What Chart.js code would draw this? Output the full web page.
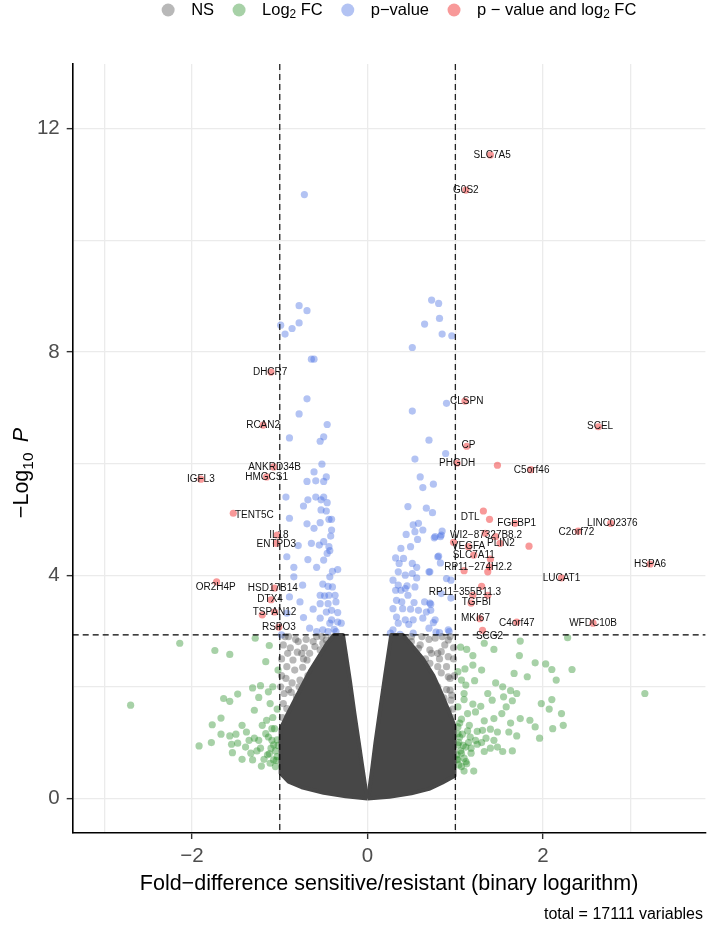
<!DOCTYPE html>
<html>
<head>
<meta charset="utf-8">
<script src="https://cdn.jsdelivr.net/npm/chart.js@4.4.1/dist/chart.umd.min.js"></script>
<style>
  html, body { margin: 0; padding: 0; background: #fff; }
  #wrap { width: 709px; height: 926px; }
</style>
</head>
<body>
<div id="wrap"><canvas id="volcano" width="709" height="926"></canvas></div>
<script>
// cutoffs
const fcCutoff = 1;
const pCutoffLog = 2.93;

// dense NS core (outline of the overplotted grey cloud), log2FC / -log10 p
const coreLeftX = [0, -0.25, -0.5, -0.75, -0.9, -0.99, -0.99, -0.93, -0.85, -0.75, -0.65, -0.55, -0.46, -0.38, -0.28, -0.2, -0.15, -0.1, -0.06, -0.02, 0];
const coreLeftY = [0, 0.04, 0.1, 0.2, 0.3, 0.45, 1.25, 1.45, 1.7, 2.0, 2.3, 2.55, 2.78, 2.93, 2.93, 2.1, 1.53, 1.0, 0.57, 0.15, 0];
const coreRightX = [0, 0.25, 0.5, 0.7, 0.85, 0.99, 0.99, 0.93, 0.85, 0.75, 0.63, 0.5, 0.4, 0.27, 0.2, 0.14, 0.09, 0.05, 0.02, 0];
const coreRightY = [0, 0.03, 0.09, 0.17, 0.28, 0.4, 1.3, 1.55, 1.85, 2.2, 2.5, 2.75, 2.93, 2.93, 2.2, 1.55, 1.0, 0.5, 0.15, 0];

// NS points outside the core
const nsX = [-0.96, -0.91, -0.79, -0.86, -0.92, -0.85, -0.69, -0.92, -0.95, -0.81, -0.62, -0.54, -0.62, -0.47, -0.43, -0.96, -0.88, -0.77, -0.69, -0.62, -0.54, -0.49, -0.40, -0.77, -0.66, -0.85, -0.69, -0.54, -0.40, -0.24, -0.72, -0.58, -0.37, -0.98, -0.9, -0.75,
  -0.98, -0.93, -0.97, -0.90, -0.83, -0.80, -0.74, -0.70, -0.66, -0.60, -0.56, -0.51, -0.45, -0.41, -0.33, -0.93, -0.97, -0.95, -0.90, -0.80, -0.96, -0.87, -0.84, -0.78, -0.72, -0.68, -0.64, -0.58, -0.73, -0.88, -0.94, -0.82, -0.52, -0.99, -0.86,
  0.50, 0.77, 0.92, 0.58, 0.71, 0.84, 0.92, 0.71, 0.80, 0.90, 0.92, 0.94, 0.95, 0.80, 0.65, 0.58, 0.77, 0.92, 0.88, 0.77, 0.65, 0.56, 0.65, 0.77, 0.88, 0.54, 0.43, 0.62, 0.98, 0.40, 0.96, 0.85,
  0.98, 0.94, 0.97, 0.90, 0.84, 0.80, 0.75, 0.70, 0.66, 0.60, 0.55, 0.50, 0.45, 0.42, 0.33, 0.93, 0.97, 0.95, 0.90, 0.80, 0.96, 0.87, 0.85, 0.78, 0.72, 0.68, 0.63, 0.56, 0.73, 0.88, 0.94, 0.82, 0.52, 0.99, 0.87, 0.70, 0.60];
const nsY = [2.75, 2.60, 2.81, 2.07, 2.36, 2.48, 2.48, 1.61, 1.88, 1.82, 2.30, 2.66, 2.81, 2.84, 2.60, 1.28, 1.16, 1.40, 1.64, 1.88, 2.12, 2.36, 2.48, 2.12, 2.06, 0.45, 0.33, 0.24, 0.15, 0.09, 2.70, 2.90, 2.75, 2.20, 2.90, 2.60,
  2.50, 2.15, 1.45, 1.95, 2.30, 2.62, 2.35, 2.85, 2.60, 2.72, 2.45, 2.78, 2.65, 2.88, 2.82, 1.05, 0.95, 0.70, 0.55, 0.40, 1.70, 1.90, 1.55, 2.00, 1.80, 2.20, 1.95, 2.15, 2.50, 2.70, 2.90, 2.85, 2.90, 2.00, 1.25,
  2.81, 2.87, 2.84, 2.69, 2.66, 2.63, 2.54, 2.42, 2.36, 2.36, 2.18, 1.94, 1.76, 2.00, 2.18, 2.42, 1.76, 1.58, 1.34, 1.52, 1.76, 2.00, 0.30, 0.39, 0.45, 0.21, 0.15, 2.90, 2.70, 2.85, 1.45, 2.90,
  2.50, 2.15, 1.60, 1.95, 2.25, 2.60, 2.10, 2.85, 2.50, 2.75, 2.60, 2.90, 2.70, 2.88, 2.85, 1.10, 0.95, 0.70, 0.55, 0.45, 1.85, 1.80, 1.45, 1.95, 2.00, 2.25, 2.05, 2.30, 2.60, 2.75, 2.90, 2.50, 2.50, 2.20, 1.20, 0.35, 0.25];

// Log2 FC only
const fcX = [-2.14, -2.70, -1.74, -1.57, -1.28, -1.12, -1.16, -1.31, -1.22, -1.08, -1.13, -1.48, -1.64, -1.57, -1.24, -1.29, -1.11, -1.67, -1.77, -1.43, -1.20, -1.09, -1.67, -1.57, -1.50, -1.38, -1.29, -1.16, -1.78, -1.92, -1.55, -1.48, -1.39, -1.22, -1.07, -1.54, -1.43, -1.33, -1.26, -1.14, -1.03, -1.31, -1.21, -1.11, -1.05, -1.18, -1.07, -1.35, -1.24, -1.09, -1.03, -1.05, -1.08, -1.03, -1.15, -1.02, -1.04, -1.10, -1.13, -1.06, -1.02, -1.12,
  1.74, 2.28, 1.06, 1.13, 1.33, 1.44, 1.73, 1.20, 1.91, 2.03, 2.10, 2.33, 1.20, 1.11, 1.03, 1.30, 1.67, 1.82, 2.15, 1.22, 1.12, 1.46, 1.54, 1.63, 1.70, 3.16, 1.10, 1.37, 1.42, 1.55, 1.65, 1.98, 2.10, 1.03, 1.20, 1.29, 1.58, 2.07, 2.21, 1.14, 1.23, 1.53, 1.74, 1.85, 2.23, 1.07, 1.33, 1.44, 1.63, 1.91, 2.11, 1.03, 1.16, 1.14, 1.31, 1.40, 1.48, 1.61, 1.70, 1.96, 1.05, 1.23, 1.35, 1.44, 1.03, 1.12, 1.25, 1.40, 1.48, 1.07, 1.18, 1.33, 1.54, 1.65, 1.03, 1.12, 1.07, 1.10, 1.21, 1.02, 1.03, 1.10, 1.07,
  1.04, 1.06, 1.08, 1.05, 1.10, 1.15, 1.18, 1.13, 1.04, 1.25, 1.30, 1.02, 1.09, 1.17];
const fcY = [2.78, 1.67, 2.65, 2.58, 2.87, 2.74, 2.45, 1.98, 2.02, 2.00, 1.91, 1.87, 1.79, 1.74, 1.81, 1.58, 1.70, 1.44, 1.32, 1.31, 1.31, 1.25, 1.15, 1.12, 1.15, 1.19, 1.08, 1.16, 1.00, 0.94, 0.97, 0.99, 0.92, 0.90, 0.96, 0.82, 0.70, 0.81, 0.85, 0.78, 0.75, 0.69, 0.58, 0.63, 0.57, 0.70, 0.69, 1.04, 1.04, 1.04, 1.05, 0.85, 1.45, 1.60, 1.40, 2.30, 0.68, 0.90, 1.10, 1.25, 0.95, 0.80,
  2.82, 2.88, 2.71, 2.67, 2.78, 2.67, 2.56, 2.56, 2.43, 2.41, 2.31, 2.31, 2.39, 2.32, 2.27, 2.30, 2.24, 2.18, 2.12, 2.11, 2.03, 2.07, 2.00, 1.93, 1.88, 1.88, 1.77, 1.88, 1.76, 1.82, 1.75, 1.70, 1.77, 1.64, 1.69, 1.65, 1.64, 1.60, 1.52, 1.52, 1.55, 1.52, 1.43, 1.40, 1.31, 1.42, 1.39, 1.43, 1.35, 1.28, 1.25, 1.28, 1.31, 1.21, 1.22, 1.24, 1.19, 1.19, 1.12, 1.08, 1.10, 1.04, 1.08, 1.04, 0.96, 0.92, 0.97, 0.90, 0.92, 0.81, 0.81, 0.84, 0.84, 0.85, 0.69, 0.66, 0.57, 0.49, 0.49, 0.78, 1.16, 1.88, 2.12,
  1.00, 0.85, 1.15, 1.35, 0.72, 1.00, 0.90, 0.62, 0.60, 1.20, 1.00, 0.70, 0.95, 1.10];

// p-value only
const pX = [-0.72, -0.78, -0.69, -0.99, -0.94, -0.86, -0.78, -0.64, -0.61, -0.69, -0.78, -0.46, -0.89, -0.50, -0.54, -0.52, -0.61, -0.69, -0.59, -0.50, -0.47, -0.93, -0.73, -0.68, -0.59, -0.53, -0.50, -0.46, -0.53, -0.47, -0.89, -0.69, -0.54, -0.44, -0.41, -0.61, -0.41, -0.42, -0.64, -0.55, -0.50, -0.79, -0.44, -0.46, -0.43, -0.92, -0.68, -0.50, -0.84, -0.58, -0.40, -0.34, -0.43, -0.84, -0.74, -0.51, -0.45, -0.40, -0.54, -0.49, -0.44, -0.37, -0.89, -0.77, -0.54, -0.45, -0.36, -0.62, -0.47, -0.41, -0.34, -0.92, -0.73, -0.54, -0.41, -0.34, -0.43, -0.30, -0.66, -0.51, -0.38, -0.58, -0.45, -0.36, -0.98,
  0.73, 0.81, 0.65, 0.82, 0.85, 0.96, 0.51, 0.90, 0.51, 0.70, 0.89, 0.54, 0.60, 0.63, 0.75, 0.46, 0.67, 0.74, 0.52, 0.58, 0.63, 0.54, 0.44, 0.85, 0.76, 0.57, 0.83, 0.49, 0.38, 0.32, 0.41, 0.51, 0.81, 0.83, 0.36, 0.56, 0.35, 0.43, 0.51, 0.70, 0.29, 0.56, 0.90, 0.35, 0.45, 0.32, 0.38, 0.43, 0.54, 0.84, 0.46, 0.33, 0.39, 0.53, 0.65, 0.72, 0.29, 0.40, 0.49, 0.58, 0.67, 0.33, 0.43, 0.52, 0.63, 0.75, 0.35, 0.47, 0.70, 0.29, 0.82, 0.93, 0.26, 0.37, 0.52,
  0.77, 0.84, 0.80, 0.71, 0.95, 0.95, 0.71, 0.72, 0.77, 0.92, 0.78];
const pY = [10.82, 8.83, 8.74, 8.48, 8.32, 8.42, 8.52, 7.87, 7.87, 7.16, 6.89, 6.70, 6.46, 6.48, 6.40, 5.99, 5.85, 5.68, 5.69, 5.68, 5.76, 5.40, 5.24, 5.35, 5.40, 5.35, 5.40, 5.30, 5.17, 5.15, 5.02, 4.92, 4.94, 5.00, 5.00, 4.84, 4.81, 4.70, 4.57, 4.54, 4.60, 4.53, 4.51, 4.39, 4.44, 4.33, 4.28, 4.27, 4.14, 4.14, 4.07, 4.10, 3.97, 3.97, 3.82, 3.84, 3.80, 3.79, 3.64, 3.63, 3.64, 3.64, 3.61, 3.52, 3.49, 3.49, 3.52, 3.39, 3.34, 3.37, 3.33, 3.32, 3.24, 3.23, 3.20, 3.16, 3.14, 3.14, 3.05, 3.02, 3.03, 2.99, 2.99, 2.99, 2.93,
  8.93, 8.87, 8.50, 8.60, 8.32, 8.29, 8.08, 7.08, 6.94, 6.42, 6.18, 6.08, 5.76, 5.57, 5.63, 5.23, 5.20, 5.12, 4.90, 4.93, 4.81, 4.78, 4.73, 4.79, 4.67, 4.64, 4.69, 4.51, 4.48, 4.31, 4.30, 4.21, 4.34, 4.22, 4.21, 4.14, 4.06, 4.00, 4.03, 4.06, 3.91, 3.95, 3.94, 3.82, 3.81, 3.73, 3.73, 3.76, 3.79, 3.67, 3.64, 3.55, 3.52, 3.51, 3.52, 3.48, 3.40, 3.40, 3.39, 3.37, 3.34, 3.25, 3.20, 3.20, 3.23, 3.15, 3.14, 3.12, 3.05, 3.02, 2.97, 2.99, 2.96, 2.94, 2.96,
  4.69, 4.72, 4.33, 4.06, 3.91, 3.59, 3.50, 3.37, 3.20, 3.02, 2.98];

// p-value and log2 FC
const bothX = [1.40, 1.12, 1.11, 1.13, 1.02, 1.48, 1.86, 2.63, 1.32, 1.39, 1.68, 2.77, 2.40, 1.34, 1.46, 1.51, 1.84, 0.98, 1.15, 1.21, 1.40, 1.10, 1.37, 1.39, 3.22, 2.21, 1.30, 1.20, 1.37, 1.18, 1.28, 1.70, 2.57, 1.31,
  -1.10, -1.19, -1.07, -1.15, -1.90, -1.53, -1.03, -1.04, -1.72, -1.06, -1.10, -1.20, -1.06, -1.01];
const bothY = [11.53, 10.90, 7.12, 6.31, 6.01, 5.97, 5.89, 6.66, 5.15, 5.00, 4.93, 4.93, 4.79, 4.75, 4.69, 4.57, 4.52, 4.59, 4.51, 4.36, 4.29, 4.08, 4.06, 4.15, 4.20, 3.95, 3.80, 3.64, 3.64, 3.50, 3.22, 3.16, 3.14, 3.01,
  7.64, 6.69, 5.94, 5.76, 5.72, 5.11, 4.72, 4.57, 3.88, 3.77, 3.56, 3.29, 3.34, 3.07];

// gene labels and where they sit
const labelText = ['SLC7A5', 'G0S2', 'CLSPN', 'CP', 'PHGDH', 'C5orf46', 'SCEL', 'DTL', 'FGFBP1', 'LINC02376', 'C2orf72', 'WI2\u221287327B8.2', 'PLIN2', 'VEGFA', 'SLC7A11', 'RP11\u2212274H2.2', 'HSPA6', 'LUCAT1', 'RP11\u2212355B11.3', 'TGFBI', 'MKI67', 'C4orf47', 'WFDC10B', 'SCG2',
  'DHCR7', 'RCAN2', 'ANKRD34B', 'HMGCS1', 'IGFL3', 'TENT5C', 'IL18', 'ENTPD3', 'OR2H4P', 'HSD17B14', 'DTX4', 'TSPAN12', 'RSPO3'];
const labelX = [1.42, 1.12, 1.13, 1.15, 1.02, 1.87, 2.65, 1.17, 1.70, 2.79, 2.38, 1.35, 1.52, 1.15, 1.21, 1.26, 3.22, 2.21, 1.11, 1.24, 1.23, 1.70, 2.57, 1.39,
  -1.11, -1.19, -1.06, -1.15, -1.90, -1.29, -1.01, -1.04, -1.73, -1.08, -1.11, -1.06, -1.01];
const labelY = [11.53, 10.90, 7.12, 6.33, 6.01, 5.88, 6.66, 5.04, 4.93, 4.93, 4.77, 4.72, 4.58, 4.51, 4.36, 4.15, 4.20, 3.95, 3.70, 3.52, 3.23, 3.14, 3.14, 2.91,
  7.64, 6.69, 5.94, 5.76, 5.72, 5.08, 4.72, 4.56, 3.79, 3.77, 3.57, 3.34, 3.07];

// legend
const legendNames = [[['NS', '']], [['Log', ''], ['2', 'sub'], [' FC', '']], [['p\u2212value', '']], [['p \u2212 value and log', ''], ['2', 'sub'], [' FC', '']]];
const colNS = 'rgba(77,77,77,0.4)';
const colFC = 'rgba(34,139,34,0.4)';
const colP = 'rgba(65,105,225,0.4)';
const colBoth = 'rgba(238,0,0,0.4)';
const legendColors = [colNS, colFC, colP, colBoth];

const FAMILY = '"Liberation Sans", Arial, Helvetica, sans-serif';
const toPts = (xs, ys) => xs.map((x, i) => ({ x, y: ys[i] }));
const minus = (v) => (v < 0 ? '\u2212' + Math.abs(v) : String(v));

const scatterStyle = (color) => ({
  pointRadius: 3.6,
  pointHoverRadius: 3.6,
  pointBackgroundColor: color,
  pointBorderWidth: 0,
  showLine: false,
});

const coreStyle = {
  type: 'line',
  showLine: true,
  pointRadius: 0,
  fill: 'shape',
  backgroundColor: '#474747',
  borderColor: '#474747',
  borderWidth: 4,
  borderJoinStyle: 'round',
  tension: 0,
};

// threshold lines
const cutoffPlugin = {
  id: 'cutoffs',
  afterDatasetsDraw(chart) {
    const { ctx, chartArea: a, scales: { x, y } } = chart;
    ctx.save();
    ctx.strokeStyle = '#000';
    ctx.lineWidth = 1.1;
    ctx.setLineDash([6, 4]);
    [-fcCutoff, fcCutoff].forEach((v) => {
      const px = x.getPixelForValue(v);
      ctx.beginPath();
      ctx.moveTo(px, a.top);
      ctx.lineTo(px, a.bottom);
      ctx.stroke();
    });
    const py = y.getPixelForValue(pCutoffLog);
    ctx.beginPath();
    ctx.moveTo(a.left, py);
    ctx.lineTo(a.right, py);
    ctx.stroke();
    ctx.restore();
  },
};

// gene names
const labelPlugin = {
  id: 'geneLabels',
  afterDatasetsDraw(chart) {
    const { ctx, scales: { x, y } } = chart;
    ctx.save();
    ctx.font = `10px ${FAMILY}`;
    ctx.fillStyle = '#111';
    ctx.textAlign = 'center';
    ctx.textBaseline = 'middle';
    labelText.forEach((t, i) => {
      ctx.fillText(t, x.getPixelForValue(labelX[i]), y.getPixelForValue(labelY[i]));
    });
    ctx.restore();
  },
};

function segWidth(ctx, segs, size) {
  let w = 0;
  segs.forEach(([t, kind]) => {
    ctx.font = `${kind === 'sub' ? size * 0.72 : size}px ${FAMILY}`;
    w += ctx.measureText(t).width;
  });
  return w;
}

function drawSegs(ctx, segs, x, y, size) {
  segs.forEach(([t, kind]) => {
    const s = kind === 'sub' ? size * 0.72 : size;
    ctx.font = `${s}px ${FAMILY}`;
    ctx.fillText(t, x, kind === 'sub' ? y + size * 0.3 : y);
    x += ctx.measureText(t).width;
  });
  return x;
}

// legend, axis titles and caption
const textPlugin = {
  id: 'texts',
  afterDraw(chart) {
    const { ctx, chartArea: a } = chart;
    ctx.save();
    ctx.textBaseline = 'middle';
    ctx.textAlign = 'left';

    // legend
    const lsize = 16.5, r = 6.5, toText = 23, toNext = 25, ly = 10;
    const widths = legendNames.map((segs) => segWidth(ctx, segs, lsize));
    let total = 0;
    widths.forEach((w, i) => { total += toText + w + (i < widths.length - 1 ? toNext : 0); });
    total += r;
    let cx = 399 - total / 2 + r;
    legendNames.forEach((segs, i) => {
      ctx.fillStyle = legendColors[i];
      ctx.beginPath();
      ctx.arc(cx, ly, r, 0, Math.PI * 2);
      ctx.fill();
      ctx.fillStyle = '#000';
      drawSegs(ctx, segs, cx + toText, ly, lsize);
      cx += toText + widths[i] + toNext;
    });

    // x title
    ctx.fillStyle = '#000';
    ctx.font = `21.5px ${FAMILY}`;
    ctx.textAlign = 'center';
    ctx.fillText('Fold\u2212difference sensitive/resistant (binary logarithm)', (a.left + a.right) / 2, 884);

    // y title: -Log10 P
    const ysize = 21.5;
    const ySegs = [['\u2212Log', ''], ['10', 'sub'], ['\u2009', '']];
    ctx.font = `${ysize}px ${FAMILY}`;
    const w1 = segWidth(ctx, ySegs, ysize);
    ctx.font = `italic ${ysize}px ${FAMILY}`;
    const w2 = ctx.measureText(' P').width;
    ctx.translate(22, 473);
    ctx.rotate(-Math.PI / 2);
    ctx.textAlign = 'left';
    const end = drawSegs(ctx, ySegs, -(w1 + w2) / 2, 0, ysize);
    ctx.font = `italic ${ysize}px ${FAMILY}`;
    ctx.fillText(' P', end, 0);
    ctx.setTransform(1, 0, 0, 1, 0, 0);

    // caption
    ctx.font = `16px ${FAMILY}`;
    ctx.textAlign = 'right';
    ctx.fillText('total = 17111 variables', 703, 915);
    ctx.restore();
  },
};

const gridColor = '#ebebeb';
const tickFont = { family: FAMILY, size: 20.5 };

new Chart(document.getElementById('volcano'), {
  type: 'scatter',
  data: {
    datasets: [
      { ...coreStyle, data: toPts(coreLeftX, coreLeftY) },
      { ...coreStyle, data: toPts(coreRightX, coreRightY) },
      { label: 'NS', data: toPts(nsX, nsY), ...scatterStyle(colNS) },
      { label: 'Log2 FC', data: toPts(fcX, fcY), ...scatterStyle(colFC) },
      { label: 'p-value', data: toPts(pX, pY), ...scatterStyle(colP) },
      { label: 'p-value and log2 FC', data: toPts(bothX, bothY), ...scatterStyle(colBoth) },
    ],
  },
  options: {
    responsive: false,
    animation: false,
    devicePixelRatio: 1,
    layout: { padding: { left: 0, top: 64, right: 2, bottom: 0 } },
    plugins: {
      legend: { display: false },
      tooltip: { enabled: false },
    },
    scales: {
      x: {
        type: 'linear',
        min: -3.36,
        max: 3.85,
        afterFit: (s) => { s.height = 93; },
        ticks: {
          stepSize: 1,
          includeBounds: false,
          autoSkip: false,
          maxRotation: 0,
          padding: 5,
          color: '#4d4d4d',
          font: tickFont,
          callback: (v) => (v % 2 === 0 ? minus(v) : ''),
        },
        grid: {
          color: gridColor,
          lineWidth: 1.3,
          tickLength: 6,
          tickWidth: 1.4,
          tickColor: (c) => (c.tick && c.tick.value % 2 === 0 ? '#333' : 'rgba(0,0,0,0)'),
        },
        border: { display: true, color: '#000', width: 1.6 },
      },
      y: {
        type: 'linear',
        min: -0.62,
        max: 13.16,
        afterFit: (s) => { s.width = 72.7; },
        ticks: {
          stepSize: 2,
          includeBounds: false,
          autoSkip: false,
          padding: 7,
          color: '#4d4d4d',
          font: tickFont,
          callback: (v) => (v % 4 === 0 ? String(v) : ''),
        },
        grid: {
          color: gridColor,
          lineWidth: 1.3,
          tickLength: 6,
          tickWidth: 1.4,
          tickColor: (c) => (c.tick && c.tick.value % 4 === 0 ? '#333' : 'rgba(0,0,0,0)'),
        },
        border: { display: true, color: '#000', width: 1.6 },
      },
    },
  },
  plugins: [cutoffPlugin, labelPlugin, textPlugin],
});
</script>
</body>
</html>
